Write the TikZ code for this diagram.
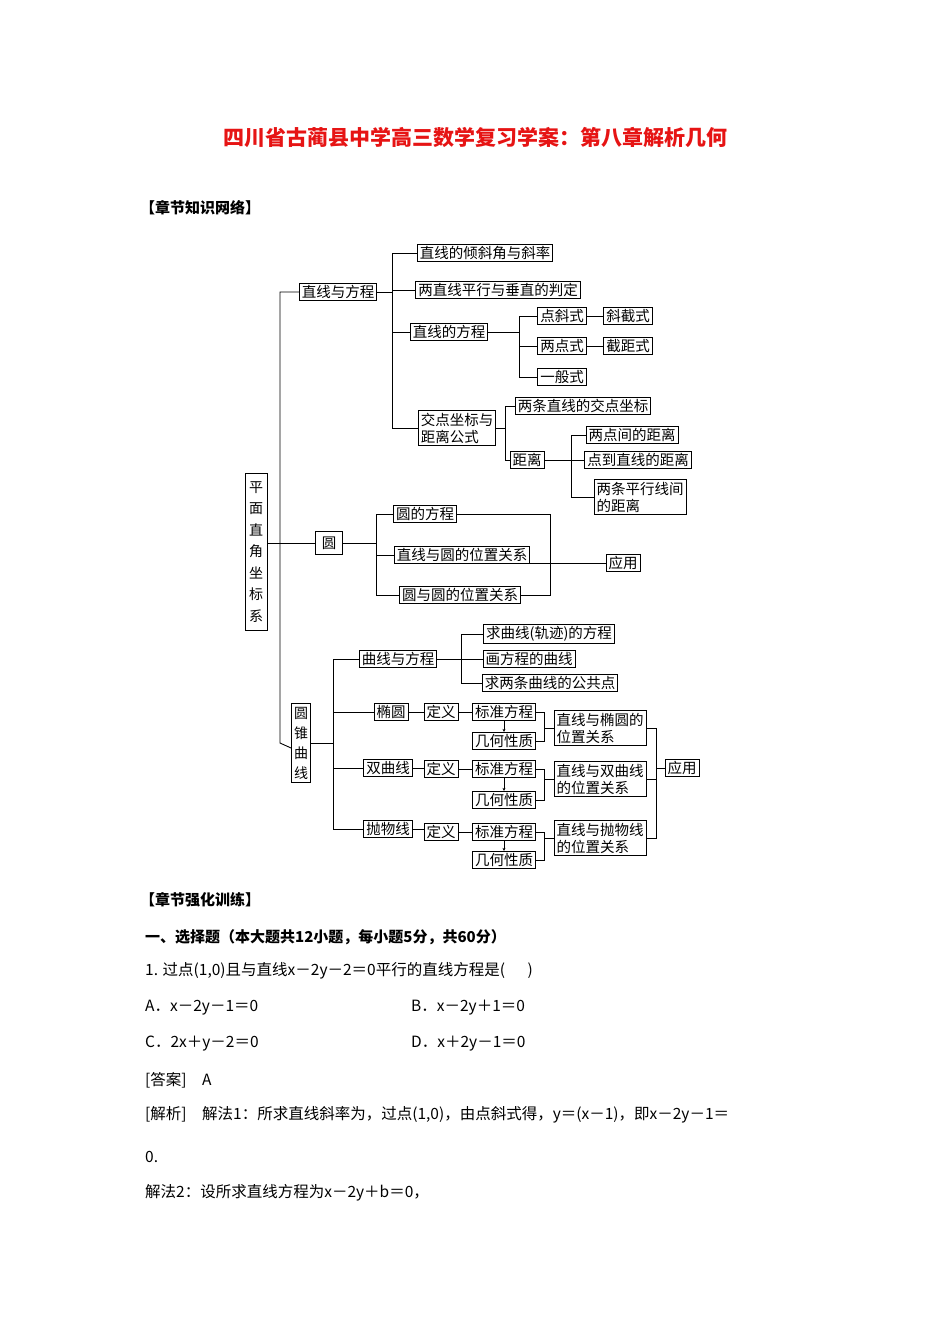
\documentclass[tikz,border=0pt]{standalone}
\usepackage{fontspec}
\setmainfont{Noto Sans CJK SC}
\usetikzlibrary{arrows.meta,calc}
\definecolor{tred}{RGB}{230,20,20}
\begin{document}
\begin{tikzpicture}[x=1pt,y=-1pt,
  bx/.style={draw,line width=0.9pt,inner xsep=2.5pt,inner ysep=2pt,font=\fontsize{14.5}{17}\selectfont,fill=white},
  ln/.style={line width=0.9pt},
  txt/.style={anchor=west,font=\fontsize{15.5}{18}\selectfont,inner sep=0pt}]
\useasboundingbox (0,0) rectangle (950,1344);
\node[font=\fontsize{21}{24}\selectfont\bfseries,text=tred] (title) at (475,137) {四川省古蔺县中学高三数学复习学案：第八章解析几何};
\node[txt,font=\fontsize{15}{18}\selectfont\bfseries] (h1) at (140,208) {【章节知识网络】};
% root
\node[bx,align=center,font=\fontsize{14}{21.5}\selectfont,minimum height=157pt,inner xsep=4pt] (root) at (256,552) {平\\面\\直\\角\\坐\\标\\系};
\coordinate (T) at (280,0);
\node[bx] (zf) at (338,292) {直线与方程};
\node[bx,inner xsep=6pt,inner ysep=5pt] (yuan) at (329,543) {圆};
\node[bx,align=center,font=\fontsize{14}{20}\selectfont,inner ysep=3pt] (zx) at (301,743) {圆\\锥\\曲\\线};
\draw[ln] (zf.west) -- (zf.west -| T) -- (zx.east -| T) -- (zx.west |- 748,748);
\draw[ln] (yuan.west) -- (yuan.west -| root.east);
% line branch
\coordinate (B1) at (392,0);
\node[bx] (a1) at (485,253) {直线的倾斜角与斜率};
\node[bx] (a2) at (498,290) {两直线平行与垂直的判定};
\node[bx] (a3) at (449,332) {直线的方程};
\node[bx,align=left] (a4) at (457,428) {交点坐标与\\距离公式};
\draw[ln] (zf.east) -- (zf.east -| B1);
\draw[ln] (a1.west) -- (a1.west -| B1) -- (a4.west -| B1) -- (a4.west);
\draw[ln] (a2.west) -- (a2.west -| B1);
\draw[ln] (a3.west) -- (a3.west -| B1);
\coordinate (B2) at (519,0);
\node[bx] (p1) at (562,316) {点斜式};
\node[bx] (p2) at (628,316) {斜截式};
\node[bx] (p3) at (562,346) {两点式};
\node[bx] (p4) at (628,346) {截距式};
\node[bx] (p5) at (562,377) {一般式};
\draw[ln] (a3.east) -- (a3.east -| B2);
\draw[ln] (p1.west) -- (p1.west -| B2) -- (p5.west -| B2) -- (p5.west);
\draw[ln] (p3.west) -- (p3.west -| B2);
\draw[ln] (p1) -- (p2); \draw[ln] (p3) -- (p4);
\coordinate (B3) at (505,0);
\node[bx] (d1) at (583,406) {两条直线的交点坐标};
\node[bx] (d2) at (527,460) {距离};
\draw[ln] (a4.east) -- (a4.east -| B3);
\draw[ln] (d1.west) -- (d1.west -| B3) -- (d2.west -| B3) -- (d2.west);
\coordinate (B4) at (571,0);
\node[bx] (e1) at (632,435) {两点间的距离};
\node[bx] (e2) at (638,460) {点到直线的距离};
\node[bx,align=left] (e3) at (640,497) {两条平行线间\\的距离};
\draw[ln] (d2.east) -- (e2.west);
\draw[ln] (e1.west) -- (e1.west -| B4) -- (e3.west -| B4) -- (e3.west);
% circle branch
\coordinate (B5) at (376,0);
\node[bx] (c1) at (425,514) {圆的方程};
\node[bx] (c2) at (462,555) {直线与圆的位置关系};
\node[bx] (c3) at (460,595) {圆与圆的位置关系};
\node[bx] (app1) at (623,563) {应用};
\draw[ln] (yuan.east) -- (yuan.east -| B5);
\draw[ln] (c1.west) -- (c1.west -| B5) -- (c3.west -| B5) -- (c3.west);
\draw[ln] (c2.west) -- (c2.west -| B5);
\coordinate (B6) at (550,0);
\draw[ln] (c1.east) -- (c1.east -| B6) -- (c3.east -| B6) -- (c3.east);
\draw[ln] (app1.west) -- (app1.west -| c2.east);
% conic branch
\coordinate (B7) at (333,0);
\node[bx] (q0) at (398,659) {曲线与方程};
\node[bx] (q1) at (391,712) {椭圆};
\node[bx] (q2) at (388,768) {双曲线};
\node[bx] (q3) at (388,829) {抛物线};
\draw[ln] (zx.east) -- (zx.east -| B7);
\draw[ln] (q0.west) -- (q0.west -| B7) -- (q3.west -| B7) -- (q3.west);
\draw[ln] (q1.west) -- (q1.west -| B7);
\draw[ln] (q2.west) -- (q2.west -| B7);
\coordinate (B8) at (461,0);
\node[bx] (r1) at (549,634) {求曲线(轨迹)的方程};
\node[bx] (r2) at (529,659) {画方程的曲线};
\node[bx] (r3) at (550,683) {求两条曲线的公共点};
\draw[ln] (q0.east) -- (r2.west);
\draw[ln] (r1.west) -- (r1.west -| B8) -- (r3.west -| B8) -- (r3.west);
\coordinate (B9) at (544,0);
\coordinate (B10) at (656,0);
\node[bx] (app2) at (682,768) {应用};
\foreach \n/\y/\yb/\yr/\t in {1/712/741/728/直线与椭圆的\\位置关系, 2/769/800/779/直线与双曲线\\的位置关系, 3/832/860/838/直线与抛物线\\的位置关系}{
  \node[bx] (f\n) at (441,\y) {定义};
  \node[bx] (s\n) at (504,\y) {标准方程};
  \node[bx] (g\n) at (504,\yb) {几何性质};
  \node[bx,align=left] (w\n) at (600,\yr) {\t};
  \draw[ln] (f\n) -- (s\n);
  \draw[ln,-{Stealth[length=3pt,width=3pt]}] (s\n.south) -- (g\n.north);
  \draw[ln] (s\n.east) -- (s\n.east -| B9) -- (g\n.east -| B9) -- (g\n.east);
  \draw[ln] (w\n.west -| B9) -- (w\n.west);
}
\draw[ln] (q1) -- (q1 -| f1.west); \draw[ln] (q2) -- (q2 -| f2.west); \draw[ln] (q3) -- (q3 -| f3.west);
\draw[ln] (w1.east) -- (w1.east -| B10) -- (w3.east -| B10) -- (w3.east);
\draw[ln] (w2.east) -- (w2.east -| B10);
\draw[ln] (app2.west) -- (app2.west -| B10);
% text
\node[txt,font=\fontsize{15}{18}\selectfont\bfseries] (h2) at (140,900) {【章节强化训练】};
\node[txt,font=\fontsize{15}{18}\selectfont\bfseries] (h3) at (145,937) {一、选择题（本大题共12小题，每小题5分，共60分）};
\node[txt] (t1) at (145,971) {1. 过点(1,0)且与直线x－2y－2＝0平行的直线方程是(\quad\ \ )};
\node[txt] (t2) at (145,1008) {A．x－2y－1＝0};
\node[txt] (t3) at (411,1008) {B．x－2y＋1＝0};
\node[txt] (t4) at (145,1044) {C．2x＋y－2＝0};
\node[txt] (t5) at (411,1044) {D．x＋2y－1＝0};
\node[txt] (t6) at (145,1080) {[答案]\quad A};
\node[txt] (t7) at (145,1115) {[解析]\quad 解法1：所求直线斜率为，过点(1,0)，由点斜式得，y＝(x－1)，即x－2y－1＝};
\node[txt] (t8) at (145,1157) {0.};
\node[txt] (t9) at (145,1193) {解法2：设所求直线方程为x－2y＋b＝0，};
\end{tikzpicture}
\end{document}
